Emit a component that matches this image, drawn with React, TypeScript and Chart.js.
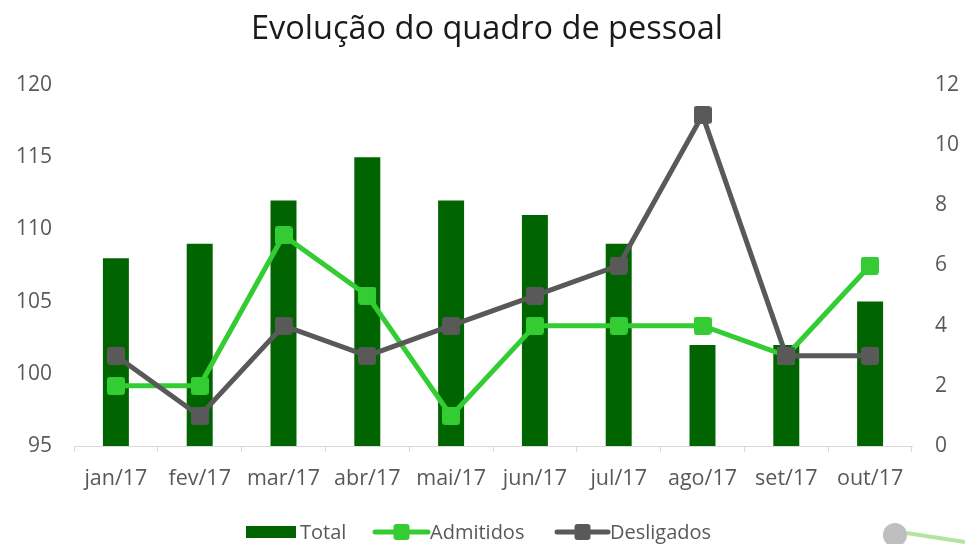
import React, { useEffect, useRef } from "react";
import { Chart, registerables } from "chart.js";

Chart.register(...registerables);

const categories = ["jan/17", "fev/17", "mar/17", "abr/17", "mai/17", "jun/17", "jul/17", "ago/17", "set/17", "out/17"];
const totalValues = [108, 109, 112, 115, 112, 111, 109, 102, 102, 105];
const admitidosValues = [2, 2, 7, 5, 1, 4, 4, 4, 3, 6];
const desligadosValues = [3, 1, 4, 3, 4, 5, 6, 11, 3, 3];
const titleText = "Evolução do quadro de pessoal";

const FONT = "'Open Sans', 'Noto Sans', sans-serif";
const TEXT = "#595959";
const BAR = "#006400";
const GREEN = "#33CC33";
const GRAY = "#595959";

function makeMarker(color: string, size: number) {
  const c = document.createElement("canvas");
  c.width = size;
  c.height = size;
  const g = c.getContext("2d")!;
  g.fillStyle = color;
  g.beginPath();
  if ((g as any).roundRect) (g as any).roundRect(0, 0, size, size, 3);
  else g.rect(0, 0, size, size);
  g.fill();
  return c;
}

const overlay = {
  id: "overlay",
  afterDraw(chart: any) {
    const ctx = chart.ctx;
    ctx.save();
    // title
    ctx.fillStyle = "#1a1a1a";
    ctx.font = `32.5px ${FONT}`;
    ctx.textAlign = "center";
    ctx.textBaseline = "middle";
    ctx.fillText(titleText, 487, 30);

    // legend
    const ly = 532;
    ctx.font = `20px ${FONT}`;
    ctx.textAlign = "left";
    ctx.fillStyle = BAR;
    ctx.fillRect(246, 526, 50, 12);
    ctx.fillStyle = TEXT;
    ctx.fillText("Total", 300, ly + 1);

    const drawLineItem = (x0: number, x1: number, color: string, label: string) => {
      ctx.strokeStyle = color;
      ctx.lineWidth = 5;
      ctx.lineCap = "round";
      ctx.beginPath();
      ctx.moveTo(x0, ly);
      ctx.lineTo(x1, ly);
      ctx.stroke();
      const cx = (x0 + x1) / 2;
      ctx.fillStyle = color;
      ctx.beginPath();
      (ctx as any).roundRect ? (ctx as any).roundRect(cx - 8, ly - 8, 16, 16, 3) : ctx.rect(cx - 8, ly - 8, 16, 16);
      ctx.fill();
      ctx.fillStyle = TEXT;
      ctx.fillText(label, x1 + 2, ly + 1);
    };
    drawLineItem(375, 428, GREEN, "Admitidos");
    drawLineItem(557, 608, GRAY, "Desligados");

    // stray handle artifact in corner
    ctx.strokeStyle = "#b5e3a0";
    ctx.lineWidth = 4;
    ctx.lineCap = "butt";
    ctx.beginPath();
    ctx.moveTo(900, 532);
    ctx.lineTo(965, 542);
    ctx.stroke();
    ctx.fillStyle = "#bfbfbf";
    ctx.beginPath();
    ctx.arc(895, 535, 12, 0, Math.PI * 2);
    ctx.fill();
    ctx.restore();
  },
};

export default function App() {
  const ref = useRef<HTMLCanvasElement>(null);
  useEffect(() => {
    document.body.style.margin = "0";
    const grayMarker = makeMarker(GRAY, 18);
    const greenMarker = makeMarker(GREEN, 18);
    const chart = new Chart(ref.current!, {
      type: "bar",
      data: {
        labels: categories,
        datasets: [
          {
            type: "line",
            label: "Desligados",
            data: desligadosValues,
            yAxisID: "y1",
            borderColor: GRAY,
            backgroundColor: GRAY,
            borderWidth: 5,
            pointStyle: grayMarker,
            pointRadius: 9,
            pointBorderWidth: 0,
            order: 0,
          } as any,
          {
            type: "line",
            label: "Admitidos",
            data: admitidosValues,
            yAxisID: "y1",
            borderColor: GREEN,
            backgroundColor: GREEN,
            borderWidth: 5,
            pointStyle: greenMarker,
            pointRadius: 9,
            pointBorderWidth: 0,
            order: 1,
          } as any,
          {
            type: "bar",
            label: "Total",
            data: totalValues,
            yAxisID: "y",
            backgroundColor: BAR,
            barPercentage: 0.31,
            categoryPercentage: 1,
            order: 2,
          },
        ],
      },
      options: {
        animation: false,
        responsive: false,
        maintainAspectRatio: false,
        layout: { padding: { top: 85, left: 0, right: 0, bottom: 0 } },
        plugins: { legend: { display: false }, title: { display: false }, tooltip: { enabled: false } },
        scales: {
          x: {
            grid: { display: true, drawOnChartArea: false, drawTicks: true, tickLength: 6, color: "#d9d9d9", offset: true },
            border: { display: true, color: "#d9d9d9", width: 1 },
            ticks: { color: TEXT, font: { family: FONT, size: 21.5 }, padding: 14, maxRotation: 0, autoSkip: false },
            afterFit: (s: any) => { s.height = 98; },
          },
          y: {
            position: "left",
            min: 95,
            max: 120,
            grid: { display: false, drawTicks: false },
            border: { display: false },
            ticks: { stepSize: 5, color: TEXT, font: { family: FONT, size: 21 }, padding: 22 },
            afterFit: (s: any) => { s.width = 74; },
          },
          y1: {
            position: "right",
            min: 0,
            max: 12,
            grid: { display: false, drawTicks: false },
            border: { display: false },
            ticks: { stepSize: 2, color: TEXT, font: { family: FONT, size: 21 }, padding: 23 },
            afterFit: (s: any) => { s.width = 53; },
          },
        },
      },
      plugins: [overlay],
    });
    return () => chart.destroy();
  }, []);
  return (
    <div style={{ position: "absolute", left: 0, top: 0, width: 965, height: 544, background: "#fff" }}>
      <canvas ref={ref} width={965} height={544} style={{ width: 965, height: 544 }} />
    </div>
  );
}
